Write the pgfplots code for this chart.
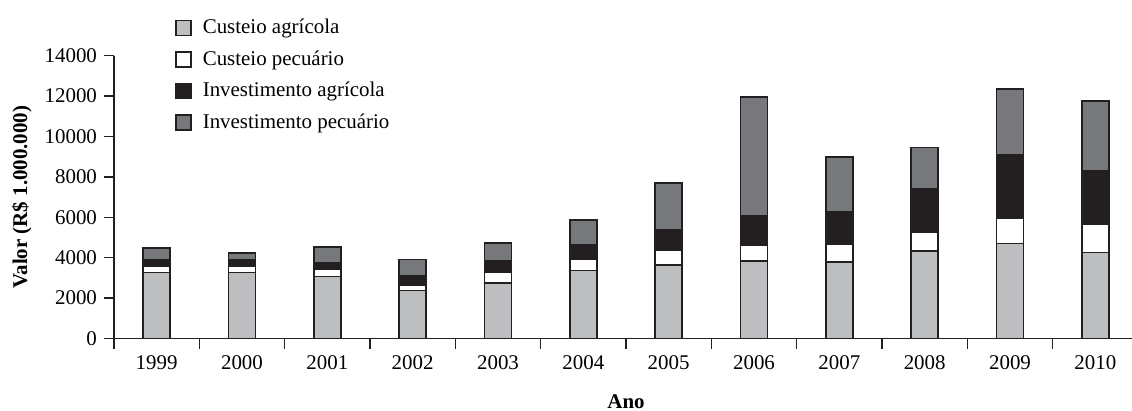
\documentclass[border=0pt]{standalone}
\usepackage{fontspec}
\setmainfont{Liberation Serif}
\usepackage{pgfplots}
\pgfplotsset{compat=1.18}
\usepackage{pgfplotstable}

\definecolor{cagr}{HTML}{BCBEC0}
\definecolor{ipec}{HTML}{77787B}
\definecolor{iagr}{HTML}{231F20}
\definecolor{edge}{HTML}{231F20}

% columns: custeio agricola, custeio pecuario, investimento agricola, investimento pecuario
\pgfplotstableread{
x  ca    cp    ia    ip
0  3260  340   290   580
1  3260  340   290   330
2  3060  370   320   790
3  2370  280   440   830
4  2760  500   590   890
5  3360  560   710   1240
6  3640  740   1020  2310
7  3840  790   1430  5890
8  3800  880   1600  2720
9  4330  930   2170  2020
10 4710  1270  3100  3270
11 4250  1420  2640  3460
}\dados

\begin{document}
\begin{tikzpicture}[font=\fontsize{10.5}{12.6}\selectfont]
\begin{axis}[
    scale only axis,
    width=512bp, height=141.4bp,
    ybar stacked,
    bar width=13.5bp,
    xmin=-0.5, xmax=11.5,
    ymin=0, ymax=14000,
    axis x line=bottom, axis y line=left,
    axis line style={-, line width=0.7bp, color=edge},
    xtick={0,...,11},
    xticklabels={1999,2000,2001,2002,2003,2004,2005,2006,2007,2008,2009,2010},
    minor xtick={-0.5,0.5,...,11.5},
    major x tick style={draw=none},
    ytick={0,2000,...,14000},
    scaled y ticks=false,
    tick align=outside,
    major tick length=5bp, minor tick length=5bp,
    tick style={line width=0.7bp, color=edge},
    /pgf/number format/1000 sep={},
    /pgf/number format/assume math mode=true,
    xlabel={\textbf{Ano}},
    ylabel={\textbf{Valor (R\$ 1.000.000)}},
    xlabel style={at={(axis description cs:0.5,-0.225)}, anchor=center},
    ylabel style={at={(axis description cs:-0.09,0.5)}, anchor=center},
    legend style={draw=none, fill=none, at={(axis description cs:0.0596,1.144)},
        anchor=north west, row sep=3bp, inner sep=0pt,
        /tikz/every odd column/.append style={column sep=3.5bp}},
    legend cell align=left,
    area legend,
    legend image code/.code={\draw[#1, line width=0.7bp] (0bp,-3.75bp) rectangle (7.5bp,3.75bp);},
    every axis plot/.append style={draw=edge, line width=0.8bp},
]
\addplot[fill=cagr] table[x=x, y=ca] {\dados};
\addplot[fill=white] table[x=x, y=cp] {\dados};
\addplot[fill=iagr] table[x=x, y=ia] {\dados};
\addplot[fill=ipec] table[x=x, y=ip] {\dados};
\legend{Custeio agrícola, Custeio pecuário, Investimento agrícola, Investimento pecuário}
\coordinate (O) at (rel axis cs:0,0);
\end{axis}
\pgfresetboundingbox
\path (O) ++(-57bp,-36.25bp) rectangle ++(566bp,205.5bp);
\end{tikzpicture}
\end{document}
